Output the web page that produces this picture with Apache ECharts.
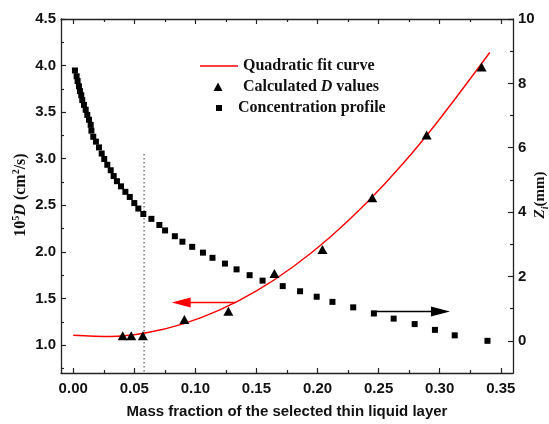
<!DOCTYPE html>
<html>
<head>
<meta charset="utf-8">
<script src="https://cdn.jsdelivr.net/npm/echarts@6/dist/echarts.min.js"></script>
<style>
html,body{margin:0;padding:0;background:#fff;}
#chart{width:549px;height:424px;}
</style>
</head>
<body>
<div id="chart"></div>
<script>
// ---- data ----
var xTicks = [0, 0.05, 0.10, 0.15, 0.20, 0.25, 0.30, 0.35];
var xMinorTicks = [0.025, 0.075, 0.125, 0.175, 0.225, 0.275, 0.325];
var dTicks = [1.0, 1.5, 2.0, 2.5, 3.0, 3.5, 4.0, 4.5];
var dMinorTicks = [0.75, 1.25, 1.75, 2.25, 2.75, 3.25, 3.75, 4.25];
var zTicks = [0, 2, 4, 6, 8, 10];
var zMinorTicks = [1, 3, 5, 7, 9];

// Quadratic fit curve
var fitX = [0, 0.03, 0.06, 0.09, 0.12, 0.15, 0.18, 0.21, 0.24, 0.27, 0.30, 0.341];
var fitD = [1.106, 1.092, 1.132, 1.227, 1.377, 1.581, 1.841, 2.155, 2.524, 2.948, 3.427, 4.14];

// Calculated D values (triangles)
var calcX = [0.0405, 0.0475, 0.0570, 0.091, 0.127, 0.1647, 0.204, 0.2448, 0.2893, 0.3343];
var calcD = [1.10, 1.10, 1.10, 1.273, 1.364, 1.768, 2.027, 2.58, 3.254, 3.986];

// Concentration profile (squares, right axis Zi in mm)
var profX = [0.0014, 0.0028, 0.0036, 0.0047, 0.0055, 0.0066, 0.0074, 0.0088, 0.0102, 0.0115,
             0.0129, 0.0143, 0.0149, 0.0164, 0.0186, 0.0211, 0.0233, 0.0254, 0.0279, 0.0307,
             0.0331, 0.0358, 0.0391, 0.0427, 0.0463, 0.0500, 0.0533, 0.0574, 0.0640, 0.0705,
             0.0752, 0.0832, 0.0894, 0.0974, 0.1062, 0.1140, 0.1242, 0.1337, 0.1444, 0.1550,
             0.1715, 0.1857, 0.1993, 0.2122, 0.2292, 0.2461, 0.2623, 0.2795, 0.2961, 0.3123,
             0.3391];
var profZ = [8.40, 8.22, 8.07, 7.91, 7.76, 7.63, 7.48, 7.33, 7.18, 7.02,
             6.87, 6.71, 6.53, 6.34, 6.19, 6.01, 5.82, 5.65, 5.47, 5.30,
             5.12, 4.96, 4.80, 4.63, 4.47, 4.28, 4.11, 3.94, 3.79, 3.60,
             3.43, 3.25, 3.08, 2.92, 2.74, 2.58, 2.40, 2.22, 2.04, 1.87,
             1.70, 1.54, 1.37, 1.21, 1.04, 0.85, 0.69, 0.52, 0.34, 0.17,
             0.00];

// Dotted vertical guide line (left-axis units)
var guideX = [0.058, 0.058];
var guideD = [3.05, 0.7];

// Arrows: red points to left axis, black points to right axis
var redArrowX = [0.1327, 0.0884];
var redArrowD = [1.456, 1.456];
var blackArrowX = [0.244, 0.3006];
var blackArrowZ = [0.913, 0.913];

function pairs(xs, ys) { return xs.map(function (x, i) { return [x, ys[i]]; }); }

var LABEL_FONT = 'Liberation Sans';
var SERIF = 'Liberation Serif';
var AX = '#222';

function baseAxis(extra) {
  var a = {
    type: 'value',
    axisLine: { show: true, onZero: false, lineStyle: { color: AX, width: 1.3 } },
    axisTick: { show: true, inside: true, length: 5, lineStyle: { color: AX, width: 1.2 } },
    axisLabel: { show: false },
    splitLine: { show: false }
  };
  for (var k in extra) a[k] = extra[k];
  return a;
}

var chart = echarts.init(document.getElementById('chart'), null, { renderer: 'canvas' });

var option = {
  animation: false,
  backgroundColor: '#fff',
  grid: { left: 61, right: 36, top: 19, bottom: 46, containLabel: false },
  xAxis: [
    baseAxis({
      position: 'bottom', min: -0.01, max: 0.36,
      axisTick: { show: true, inside: true, length: 5, customValues: xTicks, lineStyle: { color: AX, width: 1.2 } },
      axisLabel: { show: true, customValues: xTicks, margin: 8,
        formatter: function (v) { return v.toFixed(2); },
        fontFamily: LABEL_FONT, fontWeight: 'bold', fontSize: 15, color: '#111' },
      name: 'Mass fraction of the selected thin liquid layer',
      nameLocation: 'middle', nameGap: 31,
      nameTextStyle: { fontFamily: LABEL_FONT, fontWeight: 'bold', fontSize: 15, color: '#111' }
    }),
    baseAxis({
      position: 'bottom', min: -0.01, max: 0.36,
      axisLine: { show: false, onZero: false },
      axisTick: { show: true, inside: true, length: 3, customValues: xMinorTicks, lineStyle: { color: AX, width: 1.2 } }
    }),
    baseAxis({
      position: 'top', min: -0.01, max: 0.36,
      axisTick: { show: true, inside: true, length: 5, customValues: xTicks, lineStyle: { color: AX, width: 1.2 } }
    }),
    baseAxis({
      position: 'top', min: -0.01, max: 0.36,
      axisLine: { show: false, onZero: false },
      axisTick: { show: true, inside: true, length: 3, customValues: xMinorTicks, lineStyle: { color: AX, width: 1.2 } }
    })
  ],
  yAxis: [
    baseAxis({
      position: 'left', min: 0.7, max: 4.5,
      axisTick: { show: true, inside: true, length: 5, customValues: dTicks, lineStyle: { color: AX, width: 1.2 } },
      axisLabel: { show: true, customValues: dTicks, margin: 5,
        formatter: function (v) { return v.toFixed(1); },
        fontFamily: LABEL_FONT, fontWeight: 'bold', fontSize: 15, color: '#111' }
    }),
    baseAxis({
      position: 'right', min: -1, max: 10,
      axisTick: { show: true, inside: true, length: 5, customValues: zTicks, lineStyle: { color: AX, width: 1.2 } },
      axisLabel: { show: true, customValues: zTicks, margin: 5,
        formatter: function (v) { return String(v); },
        fontFamily: LABEL_FONT, fontWeight: 'bold', fontSize: 15, color: '#111' }
    }),
    baseAxis({
      position: 'left', min: 0.7, max: 4.5,
      axisLine: { show: false, onZero: false },
      axisTick: { show: true, inside: true, length: 3, customValues: dMinorTicks, lineStyle: { color: AX, width: 1.2 } }
    }),
    baseAxis({
      position: 'right', min: -1, max: 10,
      axisLine: { show: false, onZero: false },
      axisTick: { show: true, inside: true, length: 3, customValues: zMinorTicks, lineStyle: { color: AX, width: 1.2 } }
    })
  ],
  series: [
    {
      name: 'Guide', type: 'line', xAxisIndex: 0, yAxisIndex: 0,
      data: pairs(guideX, guideD), showSymbol: false, symbol: 'none', silent: true,
      lineStyle: { color: '#666', width: 1.3, type: [1.5, 2.5] }, z: 1
    },
    {
      name: 'Quadratic fit curve', type: 'line', xAxisIndex: 0, yAxisIndex: 0,
      data: pairs(fitX, fitD), smooth: 0.35, symbol: 'none', silent: true,
      lineStyle: { color: '#ff0000', width: 1.4 }, z: 2
    },
    {
      name: 'Calculated D values', type: 'scatter', xAxisIndex: 0, yAxisIndex: 0,
      data: pairs(calcX, calcD), symbol: 'triangle', symbolSize: [10, 9],
      itemStyle: { color: '#000', opacity: 1 }, z: 4,
      markLine: {
        silent: true, animation: false,
        symbol: ['none', 'triangle'], symbolSize: [10, 19],
        label: { show: false },
        lineStyle: { color: '#ff0000', width: 1.3, type: 'solid', opacity: 1 },
        emphasis: { disabled: true },
        data: [[{ coord: [redArrowX[0], redArrowD[0]] }, { coord: [redArrowX[1], redArrowD[1]] }]]
      }
    },
    {
      name: 'Concentration profile', type: 'scatter', xAxisIndex: 0, yAxisIndex: 1,
      data: pairs(profX, profZ), symbol: 'rect', symbolSize: 6,
      itemStyle: { color: '#000', opacity: 1 }, z: 3,
      markLine: {
        silent: true, animation: false,
        symbol: ['none', 'triangle'], symbolSize: [10, 19],
        label: { show: false },
        lineStyle: { color: '#000', width: 1.3, type: 'solid', opacity: 1 },
        emphasis: { disabled: true },
        data: [[{ coord: [blackArrowX[0], blackArrowZ[0]] }, { coord: [blackArrowX[1], blackArrowZ[1]] }]]
      }
    }
  ],
  graphic: [
    // legend
    { type: 'line', shape: { x1: 200, y1: 66, x2: 238, y2: 66 }, style: { stroke: '#ff0000', lineWidth: 1.4 }, silent: true },
    { type: 'text', x: 243, y: 66, silent: true,
      style: { text: 'Quadratic fit curve', fill: '#111', font: 'bold 16px "Liberation Serif"', verticalAlign: 'middle', align: 'left' } },
    { type: 'polygon', shape: { points: [[218, 82.5], [213.5, 91], [222.5, 91]] }, style: { fill: '#000' }, silent: true },
    { type: 'text', x: 243, y: 87, silent: true,
      style: { text: 'Calculated {i|D} values', fill: '#111', font: 'bold 16px "Liberation Serif"', verticalAlign: 'middle', align: 'left',
        rich: { i: { fontStyle: 'italic', fontWeight: 'bold', fontSize: 16, fontFamily: SERIF, fill: '#111' } } } },
    { type: 'rect', shape: { x: 216, y: 105, width: 6, height: 6 }, style: { fill: '#000' }, silent: true },
    { type: 'text', x: 238, y: 108, silent: true,
      style: { text: 'Concentration profile', fill: '#111', font: 'bold 16px "Liberation Serif"', verticalAlign: 'middle', align: 'left' } },
    // left axis title
    { type: 'text', x: 21, y: 195, rotation: Math.PI / 2, silent: true,
      style: { text: '10{sup|5}{i|D} (cm{sup|2}/s)', fill: '#111', align: 'center', verticalAlign: 'middle',
        fontFamily: SERIF, fontWeight: 'bold', fontSize: 16, lineHeight: 20,
        rich: {
          sup: { fontSize: 10, fontFamily: SERIF, fontWeight: 'bold', verticalAlign: 'top', lineHeight: 20, fill: '#111' },
          i: { fontSize: 16, fontFamily: SERIF, fontWeight: 'bold', fontStyle: 'italic', lineHeight: 20, fill: '#111' }
        } } },
    // right axis title
    { type: 'text', x: 540, y: 195, rotation: Math.PI / 2, silent: true,
      style: { text: '{i|Z}{sub|i}(mm)', fill: '#111', align: 'center', verticalAlign: 'middle',
        fontFamily: SERIF, fontWeight: 'bold', fontSize: 15, lineHeight: 18,
        rich: {
          sub: { fontSize: 10, fontFamily: SERIF, fontWeight: 'bold', fontStyle: 'italic', verticalAlign: 'bottom', lineHeight: 20, fill: '#111' },
          i: { fontSize: 15, fontFamily: SERIF, fontWeight: 'bold', fontStyle: 'italic', lineHeight: 18, fill: '#111' }
        } } }
  ]
};

chart.setOption(option);
</script>
</body>
</html>
